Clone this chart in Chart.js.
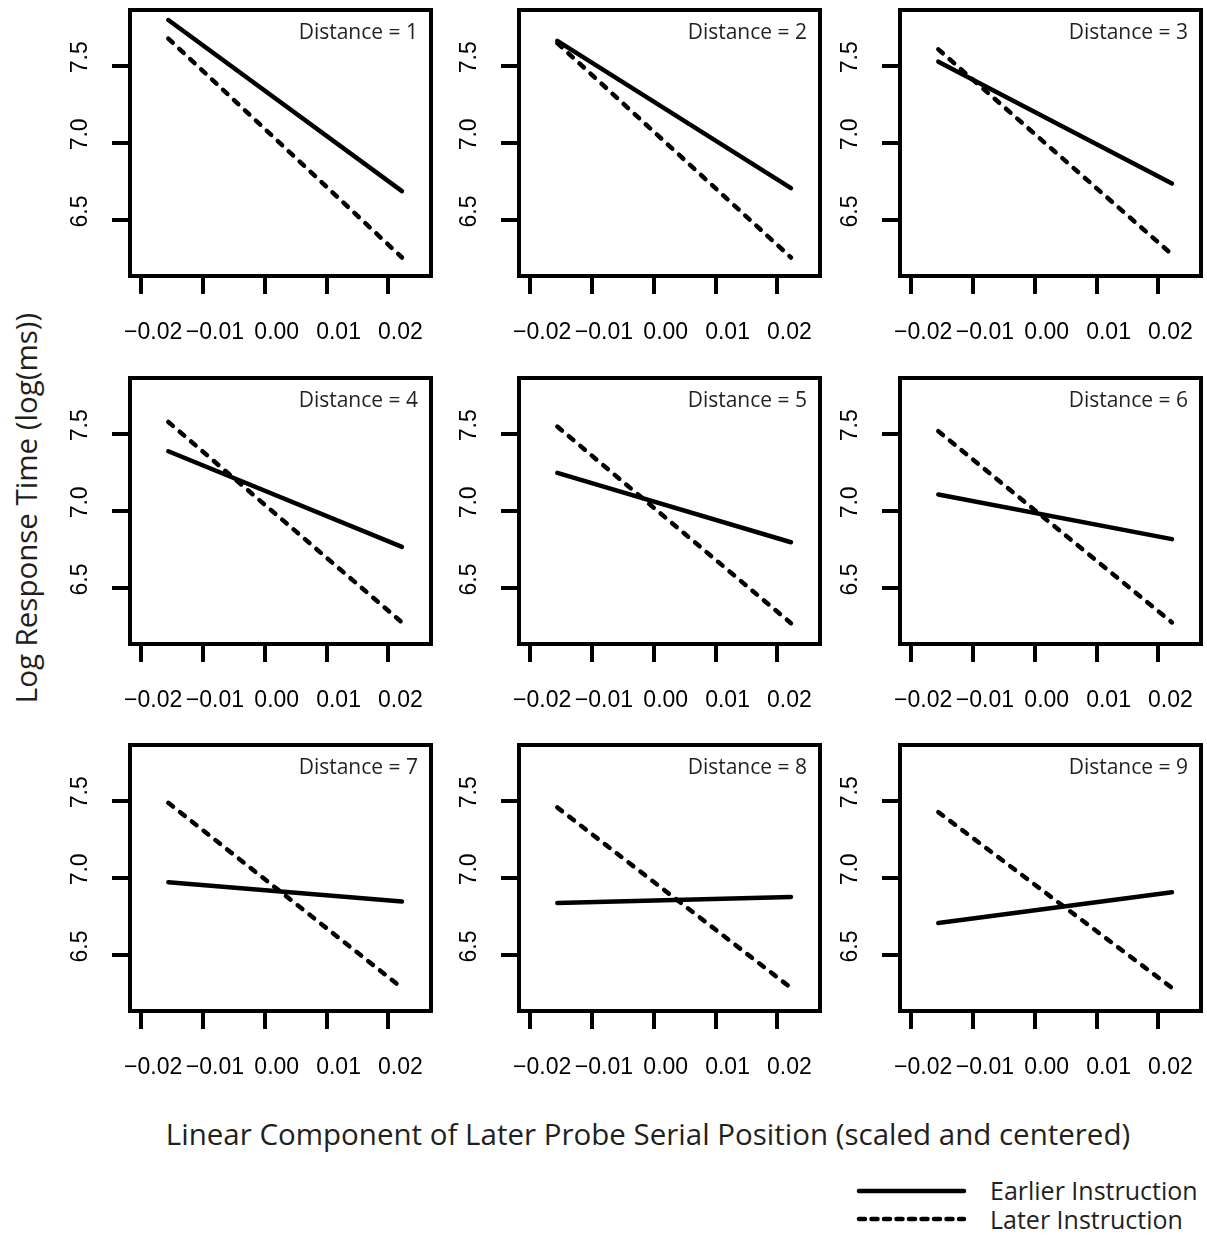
<!DOCTYPE html>
<html>
<head>
<meta charset="utf-8">
<script src="https://cdn.jsdelivr.net/npm/chart.js@4.4.1/dist/chart.umd.min.js"></script>
<style>
  body { margin: 0; background: #fff; }
  #page { position: relative; width: 1207px; height: 1239px; overflow: hidden; background: #fff; }
  #page canvas { position: absolute; }
  .label { position: absolute; font-family: "Open Sans", sans-serif; color: #231f20; white-space: nowrap; }
  #x-title { left: 648px; top: 1133px; font-size: 29.5px; transform: translate(-50%, -50%); }
  #y-title { left: 25px; top: 508px; font-size: 29.5px; transform: translate(-50%, -50%) rotate(-90deg); }
  .legend-text { left: 990px; font-size: 25px; transform: translateY(-50%); }
  #legend-lines { position: absolute; left: 850px; top: 1175px; }
</style>
</head>
<body>
<div id="page">
  <div id="y-title" class="label">Log Response Time (log(ms))</div>
  <div id="x-title" class="label">Linear Component of Later Probe Serial Position (scaled and centered)</div>
  <svg id="legend-lines" width="130" height="60">
    <line x1="9" y1="16" x2="114" y2="16" stroke="#000" stroke-width="4.5" stroke-linecap="round"/>
    <line x1="9" y1="44" x2="114" y2="44" stroke="#000" stroke-width="4.5" stroke-linecap="round" stroke-dasharray="6 6.5"/>
  </svg>
  <div class="label legend-text" style="top:1190px">Earlier Instruction</div>
  <div class="label legend-text" style="top:1219px">Later Instruction</div>
</div>
<script>
// x positions where the fitted lines start and end
const xEnds = [-0.0156, 0.0222];
const distances = [1, 2, 3, 4, 5, 6, 7, 8, 9];

// Earlier Instruction: fitted log RT at the left and right end
const earlierStart = [7.80, 7.665, 7.53, 7.39, 7.25, 7.11, 6.975, 6.84, 6.71];
const earlierEnd = [6.69, 6.71, 6.74, 6.77, 6.80, 6.82, 6.85, 6.88, 6.91];

// Later Instruction
const laterStart = [7.68, 7.65, 7.61, 7.58, 7.55, 7.52, 7.49, 7.46, 7.43];
const laterEnd = [6.26, 6.26, 6.28, 6.28, 6.275, 6.28, 6.29, 6.29, 6.29];

const xTickStep = 0.01;
const yTickStep = 0.5;

// panel frame geometry on the page
const boxLefts = [130, 519, 900];
const boxTops = [10, 378, 745];
const boxW = 301, boxH = 266;
const axisLeft = 75, axisBottom = 75, padTop = 10, padRight = 6;

const tickFont = { family: '"Liberation Sans", Arial, sans-serif', size: 23 };

function fmtX(v) {
  const r = Math.round(v * 100) / 100;
  return (r < 0 ? '\u2212' : '') + Math.abs(r).toFixed(2);
}

// fixed axis sizes so every plot area lands in the same place
function fixX(s) {
  s.height = axisBottom;
  s.paddingLeft = 0; s.paddingRight = 0; s.paddingTop = 0; s.paddingBottom = 0;
}
function fixY(s) {
  s.width = axisLeft;
  s.paddingLeft = 0; s.paddingRight = 0; s.paddingTop = 0; s.paddingBottom = 0;
}

// frame around the plot area plus the "Distance = n" note
const framePlugin = {
  id: 'frame',
  afterDatasetsDraw(chart, args, opts) {
    const { ctx, chartArea: a } = chart;
    ctx.save();
    ctx.strokeStyle = '#000';
    ctx.lineWidth = 4;
    ctx.strokeRect(a.left, a.top, a.right - a.left, a.bottom - a.top);
    ctx.fillStyle = '#231f20';
    ctx.font = '21px "Open Sans", sans-serif';
    ctx.textAlign = 'right';
    ctx.textBaseline = 'middle';
    ctx.fillText(opts.note, a.right - 13, a.top + 23);
    ctx.restore();
  }
};

function makePanel(i) {
  const col = i % 3, row = Math.floor(i / 3);
  const canvas = document.createElement('canvas');
  const w = axisLeft + boxW + padRight;
  const h = padTop + boxH + axisBottom;
  canvas.width = w;
  canvas.height = h;
  canvas.style.left = (boxLefts[col] - axisLeft) + 'px';
  canvas.style.top = (boxTops[row] - padTop) + 'px';
  canvas.style.width = w + 'px';
  canvas.style.height = h + 'px';
  document.getElementById('page').appendChild(canvas);

  const lineStyle = { borderColor: '#000', borderWidth: 4.5, pointRadius: 0, borderCapStyle: 'round', fill: false };
  const tickGrid = {
    display: true, drawOnChartArea: false, drawTicks: true,
    tickLength: 18, tickWidth: 4, tickColor: '#000', lineWidth: 4, color: '#000'
  };

  return new Chart(canvas, {
    type: 'line',
    data: {
      datasets: [
        {
          ...lineStyle,
          label: 'Earlier Instruction',
          data: [{ x: xEnds[0], y: earlierStart[i] }, { x: xEnds[1], y: earlierEnd[i] }]
        },
        {
          ...lineStyle,
          label: 'Later Instruction',
          borderDash: [6, 9],
          data: [{ x: xEnds[0], y: laterStart[i] }, { x: xEnds[1], y: laterEnd[i] }]
        }
      ]
    },
    options: {
      responsive: false,
      animation: false,
      layout: { padding: { left: 0, top: padTop, right: padRight, bottom: 0 } },
      plugins: {
        legend: { display: false },
        tooltip: { enabled: false },
        frame: { note: 'Distance = ' + distances[i] }
      },
      scales: {
        x: {
          type: 'linear',
          min: -0.0218,
          max: 0.0269,
          afterFit: fixX,
          border: { display: false },
          grid: tickGrid,
          ticks: {
            stepSize: xTickStep, includeBounds: false, autoSkip: false,
            maxRotation: 0, minRotation: 0, padding: 25, labelOffset: 12,
            color: '#000', font: tickFont, callback: fmtX
          }
        },
        y: {
          type: 'linear',
          min: 6.14,
          max: 7.865,
          afterFit: fixY,
          border: { display: false },
          grid: tickGrid,
          ticks: {
            stepSize: yTickStep, includeBounds: false,
            minRotation: 90, maxRotation: 90, crossAlign: 'center', padding: 15, labelOffset: -9,
            color: '#000', font: tickFont, callback: (v) => v.toFixed(1)
          }
        }
      }
    },
    plugins: [framePlugin]
  });
}

distances.forEach((d, i) => makePanel(i));
</script>
</body>
</html>
